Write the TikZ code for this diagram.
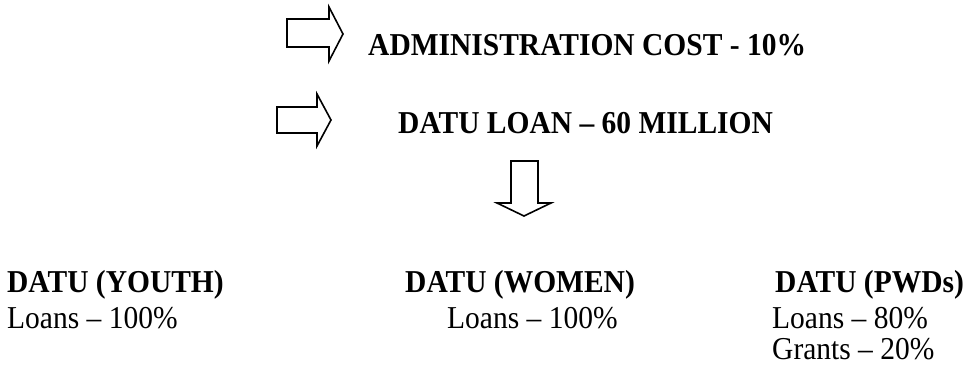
\documentclass[tikz,border=0pt]{standalone}
\usepackage{fontspec}
\usepackage{graphicx}
\setmainfont{Liberation Serif}
\newcommand{\tallish}[1]{\scalebox{1}[1.08]{#1}}
\begin{document}
\begin{tikzpicture}[x=1pt,y=-1pt,
  txt/.style={anchor=base west,inner sep=0pt,font=\fontsize{29.5}{35}\selectfont},
  btxt/.style={txt,font=\fontsize{29.5}{35}\selectfont\bfseries},
  blockarrow/.style={draw=black,line width=1.6pt,line join=miter,fill=white}]
\useasboundingbox (0,0) rectangle (970,370);
% arrows
\draw[blockarrow] (287,19) -- (329,19) -- (329,7) -- (343,34) -- (329,61) -- (329,47) -- (287,47) -- cycle;
\draw[blockarrow] (277,107) -- (317,107) -- (317,94) -- (331,120) -- (317,146) -- (317,133) -- (277,133) -- cycle;
\draw[blockarrow] (511,161) -- (538,161) -- (538,203) -- (551,203) -- (524,216) -- (497,203) -- (511,203) -- cycle;
% texts
\node[btxt] (admin) at (368,55) {\tallish{ADMINISTRATION COST - 10\%}};
\node[btxt] (loan) at (398,133) {\tallish{DATU LOAN – 60 MILLION}};
\node[btxt] (youth) at (7,292) {\tallish{DATU (YOUTH)}};
\node[txt] (youthl) at (7,328) {\tallish{Loans – 100\%}};
\node[btxt] (women) at (405,292) {\tallish{DATU (WOMEN)}};
\node[txt] (womenl) at (447,328) {\tallish{Loans – 100\%}};
\node[btxt] (pwd) at (775,292) {\tallish{DATU (PWDs)}};
\node[txt] (pwdl) at (772,328) {\tallish{Loans – 80\%}};
\node[txt] (pwdg) at (772,359) {\tallish{Grants – 20\%}};
\end{tikzpicture}
\end{document}
